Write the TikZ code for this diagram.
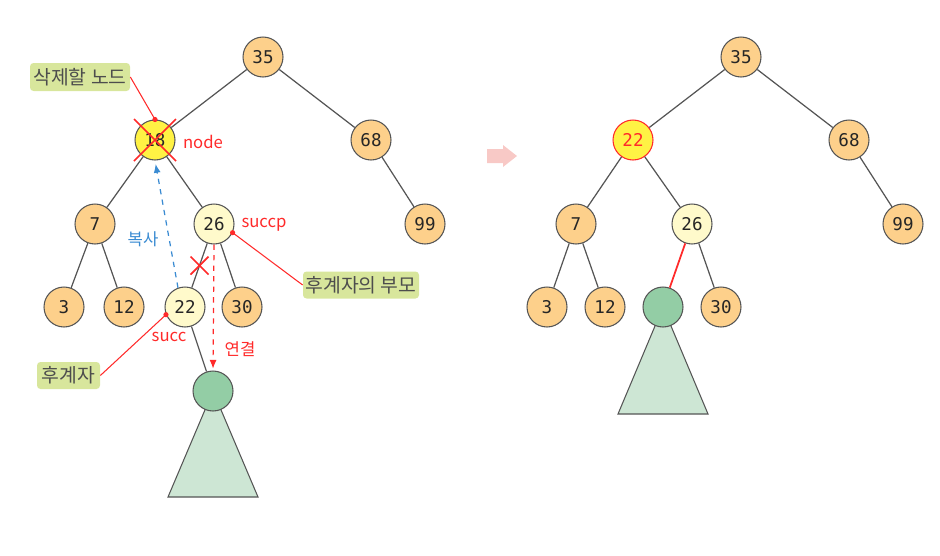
\documentclass[tikz,border=0pt]{standalone}
\usepackage{fontspec}
\setmainfont{Noto Sans CJK KR}
\newfontfamily\numfont{DejaVu Sans Mono}
\usetikzlibrary{calc,arrows.meta}
\definecolor{orangeF}{HTML}{FDD08B}
\definecolor{lightY}{HTML}{FFFACB}
\definecolor{delY}{HTML}{FFF244}
\definecolor{greenC}{HTML}{93CDA5}
\definecolor{greenT}{HTML}{CDE6D4}
\definecolor{boxF}{HTML}{D8E69C}
\definecolor{boxT}{HTML}{4D4D4D}
\definecolor{redC}{HTML}{FF2A2A}
\definecolor{blueC}{HTML}{3A8BD2}
\definecolor{lineC}{HTML}{555555}
\definecolor{pinkC}{HTML}{F8C9C6}
\tikzset{
  tn/.style={circle,draw=lineC,line width=0.6pt,inner sep=0pt,minimum size=0.8cm,fill=orangeF,
    font=\numfont\fontsize{10}{12}\selectfont,text=black!85},
  yn/.style={tn,fill=lightY},
  dn/.style={tn,fill=delY},
  gn/.style={tn,fill=greenC},
  edge/.style={draw=lineC,line width=0.7pt},
  lblbox/.style={rounded corners=2pt,fill=boxF,text=boxT,inner sep=0pt,
    font=\fontsize{11}{13}\selectfont},
  rtxt/.style={text=redC,font=\fontsize{9.5}{11}\selectfont,inner sep=0pt},
  btxt/.style={text=blueC,font=\fontsize{9.5}{11}\selectfont,inner sep=0pt},
  rline/.style={draw=redC,line width=0.6pt},
  rdot/.style={fill=redC},
  tri/.style={draw=lineC,line width=0.6pt,fill=greenT},
}
\begin{document}
\begin{tikzpicture}[x=0.02cm,y=-0.02cm]
\useasboundingbox (0,0) rectangle (940,555);
% ---------------- left tree ----------------
\coordinate (gLc) at (213,391);
\draw[tri] (gLc) -- ($(gLc)+(-45,106)$) -- ($(gLc)+(45,106)$) -- cycle;
\node[tn] (a35) at (263,57) {35};
\node[dn] (a18) at (155,140) {18};
\node[tn] (a68) at (371,140) {68};
\node[tn] (a7) at (95,224) {7};
\node[yn] (a26) at (214,224) {26};
\node[tn] (a99) at (425,224) {99};
\node[tn] (a3) at (64,307) {3};
\node[tn] (a12) at (124,307) {12};
\node[yn] (a22) at (185,307) {22};
\node[tn] (a30) at (242,307) {30};
\node[gn] (agr) at (gLc) {};
\path[edge] (a35)--(a18) (a35)--(a68) (a18)--(a7) (a18)--(a26) (a68)--(a99)
  (a7)--(a3) (a7)--(a12) (a26)--(a22) (a26)--(a30) (a22)--(agr);
% red X on 18
\draw[redC,line width=1pt] ($(a18)+(-21,-21)$) -- ($(a18)+(21,21)$)
  ($(a18)+(21,-21)$) -- ($(a18)+(-21,21)$);
% red X on edge 26-22
\coordinate (xm) at ($(a26)!0.5!(a22)$);
\draw[redC,line width=1pt] ($(xm)+(-9,-9)$) -- ($(xm)+(9,9)$)
  ($(xm)+(9,-9)$) -- ($(xm)+(-9,9)$);
% copy arrow
\draw[blueC,dashed,line width=0.7pt,-{Latex[length=5pt,width=4pt]},shorten >=2pt]
  (a22.110) -- (a18.south);
% link arrow
\draw[redC,dashed,line width=0.7pt,-{Latex[length=5pt,width=4pt]},shorten >=1pt]
  (a26.south) -- (agr.north);
% texts
\node[rtxt] (tnode) at (203,142) {node};
\node[rtxt] (tsuccp) at (264,225) {succp};
\node[rtxt] (tsucc) at (169,337) {succ};
\node[btxt] (tcopy) at (143,239) {복사};
\node[rtxt] (tlink) at (240,349) {연결};
% label boxes
\node[lblbox,minimum width=100*0.02cm,minimum height=28*0.02cm] (bdel) at (80,77) {삭제할 노드};
\node[lblbox,minimum width=116*0.02cm,minimum height=27*0.02cm] (bpar) at (361,285) {후계자의 부모};
\node[lblbox,minimum width=63*0.02cm,minimum height=27*0.02cm] (bsuc) at (68.5,375.5) {후계자};
\coordinate (d18) at (a18.north);
\coordinate (d26) at (a26.-25);
\coordinate (d22) at (a22.202);
\draw[rline] (bdel.east) -- (d18);
\draw[rline] (bpar.west) -- (d26);
\draw[rline] (bsuc.east) -- (d22);
\fill[rdot] (d18) circle (2.6);
\fill[rdot] (d26) circle (2.6);
\fill[rdot] (d22) circle (2.6);
% ---------------- arrow between ----------------
\fill[pinkC] (487,149) -- (503,149) -- (503,145) -- (517,156) -- (503,167) -- (503,163) -- (487,163) -- cycle;
% ---------------- right tree ----------------
\coordinate (gRc) at (663,307);
\draw[tri] (gRc) -- ($(gRc)+(-45,107)$) -- ($(gRc)+(45,107)$) -- cycle;
\node[tn] (b35) at (741,57) {35};
\node[dn,draw=redC,text=redC] (b22) at (633,140) {22};
\node[tn] (b68) at (849,140) {68};
\node[tn] (b7) at (576,224) {7};
\node[yn] (b26) at (692,224) {26};
\node[tn] (b99) at (903,224) {99};
\node[tn] (b3) at (547,307) {3};
\node[tn] (b12) at (605,307) {12};
\node[gn] (bgr) at (gRc) {};
\node[tn] (b30) at (721,307) {30};
\path[edge] (b35)--(b22) (b35)--(b68) (b22)--(b7) (b22)--(b26) (b68)--(b99)
  (b7)--(b3) (b7)--(b12) (b26)--(b30);
\draw[redC,line width=1pt] (b26)--(bgr);
\end{tikzpicture}
\end{document}
